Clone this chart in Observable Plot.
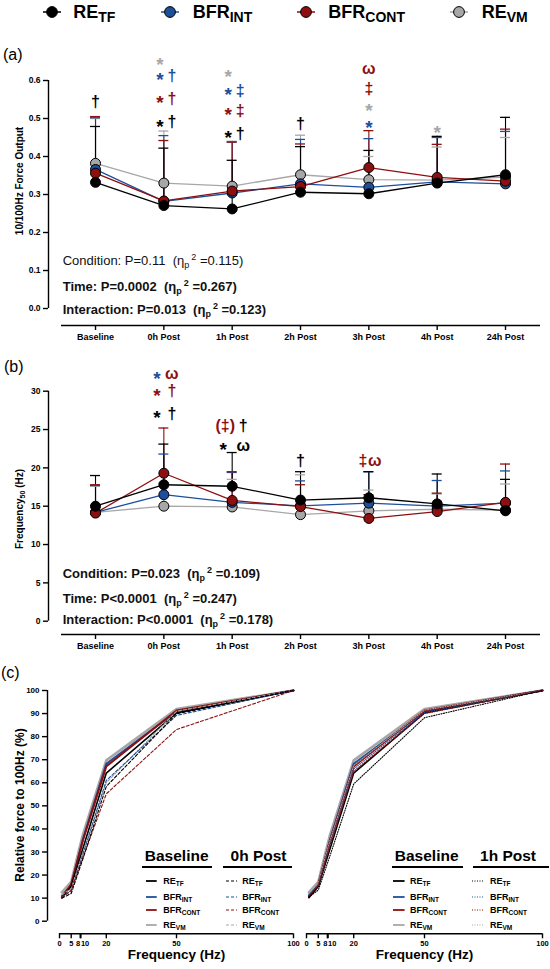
<!DOCTYPE html>
<html><head><meta charset="utf-8">
<script src="https://cdn.jsdelivr.net/npm/d3@7"></script>
<script src="https://cdn.jsdelivr.net/npm/@observablehq/plot@0.6"></script>
<style>
body{margin:0;background:#fff;font-family:"Liberation Sans",Arial,Helvetica,sans-serif;color:#000;}
#root{position:relative;width:550px;height:969px;overflow:hidden;background:#fff;}
.abs{position:absolute;white-space:nowrap;}
.stat{font-size:13px;line-height:16px;color:#111;}
.sb{font-size:9px;position:relative;top:3px;}
.sp{font-size:9px;position:relative;top:-5px;margin-left:2px;}
svg [aria-label$="tick label"]{font-weight:bold;}
</style></head><body><div id="root"></div>
<script>
// ---------------- data ----------------
const categories = ["Baseline","0h Post","1h Post","2h Post","3h Post","4h Post","24h Post"];
const seriesKeys = ["RE_TF","BFR_INT","BFR_CONT","RE_VM"];
const seriesMain = ["RE","BFR","BFR","RE"];
const seriesSub  = ["TF","INT","CONT","VM"];
const seriesColors = ["#000000","#1d4f9b","#8e0f0f","#a7a7a7"];
const drawOrder = ["RE_VM","BFR_INT","BFR_CONT","RE_TF"];

// (a) 10/100Hz force output: means and upper SD
const forceRatio_RE_TF    = [0.332,0.271,0.262,0.306,0.302,0.330,0.352];
const forceRatio_BFR_INT  = [0.366,0.282,0.304,0.328,0.319,0.333,0.328];
const forceRatio_BFR_CONT = [0.356,0.283,0.309,0.321,0.371,0.345,0.335];
const forceRatio_RE_VM    = [0.382,0.330,0.322,0.352,0.339,0.338,0.346];
const forceRatioUpper_RE_TF    = [0.479,0.422,0.390,0.426,0.416,0.453,0.503];
const forceRatioUpper_BFR_INT  = [0.502,0.455,0.438,0.445,0.447,0.450,0.466];
const forceRatioUpper_BFR_CONT = [0.505,0.442,0.438,0.433,0.468,0.432,0.472];
const forceRatioUpper_RE_VM    = [0.500,0.467,0.440,0.456,0.400,0.425,0.450];

// (b) Frequency50 (Hz)
const freq50_RE_TF    = [15.0,17.8,17.6,15.8,16.1,15.3,14.4];
const freq50_BFR_INT  = [14.2,16.5,15.5,15.05,15.4,15.0,15.4];
const freq50_BFR_CONT = [14.1,19.3,15.75,14.95,13.4,14.3,15.5];
const freq50_RE_VM    = [14.2,15.0,14.9,13.9,14.4,14.6,14.5];
const freq50Upper_RE_TF    = [19.0,23.1,22.0,19.5,19.5,19.2,18.5];
const freq50Upper_BFR_INT  = [17.7,21.8,19.4,18.3,19.5,18.35,19.6];
const freq50Upper_BFR_CONT = [17.8,25.2,19.5,17.8,16.5,16.7,20.5];
const freq50Upper_RE_VM    = [17.6,18.0,18.5,19.1,17.1,16.6,17.9];

// (c) relative force to 100Hz (%)
const stimFreqs = [1,5,8,10,20,50,100];
const freqTicksMain = [0,5,20,50,100];
const freqTickLeft = [8];
const freqTickRight = [10];
const relBase_RE_TF    = [10.2,15.0,25.0,31.5,64.2,90.3,100];
const relBase_BFR_INT  = [11.0,15.5,27.5,35.5,68.2,90.9,100];
const relBase_BFR_CONT = [10.5,16.0,27.5,35.0,67.1,91.3,100];
const relBase_RE_VM    = [12.5,17.0,29.5,37.5,69.7,92.0,100];
const rel0h_RE_TF    = [10.0,12.0,21.0,27.0,58.4,89.9,100];
const rel0h_BFR_INT  = [10.5,13.0,22.5,29.0,61.0,89.2,100];
const rel0h_BFR_CONT = [10.2,13.5,22.0,27.5,55.2,83.1,100];
const rel0h_RE_VM    = [11.5,14.0,23.5,29.5,60.0,91.0,100];
const rel1h_RE_TF    = [10.5,13.5,22.5,28.5,59.5,88.2,100];
const rel1h_BFR_INT  = [11.5,15.5,26.5,33.5,66.0,90.5,100];
const rel1h_BFR_CONT = [11.0,15.5,26.0,33.0,65.0,90.0,100];
const rel1h_RE_VM    = [12.0,16.5,28.0,35.0,67.5,91.5,100];

// significance annotations: [category, value level, symbol, series colour, slot]
const annotationsA = [
  ["Baseline",0.543,"†","RE_TF",0],
  ["0h Post",0.653,"*","RE_VM",-1],
  ["0h Post",0.613,"*","BFR_INT",-1],["0h Post",0.613,"†","BFR_INT",1],
  ["0h Post",0.552,"*","BFR_CONT",-1],["0h Post",0.552,"†","BFR_CONT",1],
  ["0h Post",0.490,"*","RE_TF",-1],["0h Post",0.490,"†","RE_TF",1],
  ["1h Post",0.620,"*","RE_VM",-1],
  ["1h Post",0.574,"*","BFR_INT",-1],["1h Post",0.574,"‡","BFR_INT",1],
  ["1h Post",0.521,"*","BFR_CONT",-1],["1h Post",0.521,"‡","BFR_CONT",1],
  ["1h Post",0.460,"*","RE_TF",-1],["1h Post",0.460,"†","RE_TF",1],
  ["2h Post",0.486,"†","RE_TF",0],
  ["3h Post",0.631,"ω","BFR_CONT",0],
  ["3h Post",0.578,"‡","BFR_CONT",0],
  ["3h Post",0.532,"*","RE_VM",0],
  ["3h Post",0.486,"*","BFR_INT",0],
  ["4h Post",0.475,"*","RE_VM",0]
];
const annotationsB = [
  ["0h Post",32.2,"*","BFR_INT",-1],["0h Post",32.2,"ω","BFR_CONT",1],
  ["0h Post",30.0,"*","BFR_CONT",-1],["0h Post",30.0,"†","BFR_CONT",1],
  ["0h Post",27.05,"*","RE_TF",-1],["0h Post",27.05,"†","RE_TF",1],
  ["1h Post",25.5,"(‡)","BFR_CONT",-1],["1h Post",25.5,"†","RE_TF",2],
  ["1h Post",22.9,"*","RE_TF",-2],["1h Post",22.9,"ω","RE_TF",2],
  ["2h Post",20.96,"†","RE_TF",0],
  ["3h Post",20.96,"‡","BFR_CONT",-3],["3h Post",20.96,"ω","BFR_CONT",3]
];

const statsA = [["Condition:","P=0.11","0.115",false],["Time:","P=0.0002","0.267",true],["Interaction:","P=0.013","0.123",true]];
const statsB = [["Condition:","P=0.023","0.109",true],["Time:","P<0.0001","0.247",true],["Interaction:","P<0.0001","0.178",true]];

// ---------------- helpers ----------------
const FONT = '"Liberation Sans", Arial, Helvetica, sans-serif';
const root = document.getElementById("root");
function put(el, left, top){ el.style.position="absolute"; el.style.left=left+"px"; el.style.top=top+"px"; root.appendChild(el); return el; }
function div(html, cls, left, top, extra){ const d=document.createElement("div"); d.className="abs "+(cls||""); d.innerHTML=html; if(extra) Object.assign(d.style, extra); return put(d,left,top); }

function catTable(means, uppers){
  return drawOrder.flatMap(k => categories.map((c,i)=>({series:k, i, mean: means[k][i], upper: uppers[k][i]})));
}
function freqTable(vals, period){
  return drawOrder.flatMap(k => stimFreqs.map((f,j)=>({series:k, period, f, v: vals[k][j]})));
}
const colorScale = {domain: seriesKeys, range: seriesColors};
const svgStyle = {background:"transparent", fontFamily: FONT, color:"#000", overflow:"visible"};

// categorical panels layout
const xDomainAB = [-0.688, 6.512];
const marginLAB = 48, marginRAB = 10, W = 550;
const pxPerCat = (W - marginLAB - marginRAB) / (xDomainAB[1]-xDomainAB[0]);
const xAxisStart = -0.4976;
const capHalf = 5 / pxPerCat;

function annoMarks(list, offsets){
  const rows = list.map(([cat,y,sym,series,slot]) => ({x: categories.indexOf(cat) + offsets[slot]/pxPerCat, y, sym, series}));
  return [
    Plot.text(rows.filter(d=>d.sym==="*"), {x:"x", y:"y", text:"sym", fill:"series", fontSize:19, fontWeight:"bold", dy:4.5}),
    Plot.text(rows.filter(d=>d.sym!=="*"), {x:"x", y:"y", text:"sym", fill:"series", fontSize:16, fontWeight:"bold"})
  ];
}

function catPanel({data, yDomain, yTicks, yFmt, yTop, top, mTop, mBottom, height, annos, offsets}){
  const svg = Plot.plot({
    width: W, height, marginTop: mTop, marginBottom: mBottom, marginLeft: marginLAB, marginRight: marginRAB,
    x: {domain: xDomainAB, axis: null},
    y: {domain: yDomain, axis: null},
    color: colorScale,
    style: svgStyle,
    marks: [
      Plot.ruleX([xDomainAB[0]], {y1: 0, y2: yTop, stroke:"#000", strokeWidth: 1.4}),
      Plot.axisY({ticks: yTicks, tickFormat: yFmt, tickSize: 5, tickPadding: 3, fontSize: 8.5, fontWeight:"bold", strokeWidth: 1.4, label: null}),
      Plot.ruleY([yDomain[0]], {x1: xAxisStart, x2: xDomainAB[1], stroke:"#000", strokeWidth: 1.4}),
      Plot.axisX({ticks: d3.range(categories.length), tickFormat: i => categories[i], tickSize: 5, tickPadding: 3, fontSize: 9, fontWeight:"bold", strokeWidth: 1.4, label: null}),
      Plot.ruleX(data, {x:"i", y1:"mean", y2:"upper", stroke:"series", strokeWidth: 1.1}),
      Plot.ruleY(data, {y:"upper", x1: d => d.i - capHalf, x2: d => d.i + capHalf, stroke:"series", strokeWidth: 1.3}),
      Plot.line(data, {x:"i", y:"mean", z:"series", stroke:"series", strokeWidth: 1.3}),
      Plot.dot(data, {x:"i", y:"mean", fill:"series", stroke:"#000", strokeWidth: 1, r: 5}),
      ...annoMarks(annos, offsets)
    ]
  });
  put(svg, 0, top);
}

// ---------------- panel (a) ----------------
const ratioMeans = {RE_TF: forceRatio_RE_TF, BFR_INT: forceRatio_BFR_INT, BFR_CONT: forceRatio_BFR_CONT, RE_VM: forceRatio_RE_VM};
const ratioUppers = {RE_TF: forceRatioUpper_RE_TF, BFR_INT: forceRatioUpper_BFR_INT, BFR_CONT: forceRatioUpper_BFR_CONT, RE_VM: forceRatioUpper_RE_VM};
catPanel({
  data: catTable(ratioMeans, ratioUppers),
  yDomain: [-0.0447, 0.6], yTicks: [0,0.1,0.2,0.3,0.4,0.5,0.6], yFmt: d3.format(".1f"), yTop: 0.6,
  top: 40, mTop: 40, mBottom: 20, height: 305,
  annos: annotationsA, offsets: {"-1": -4, 0: 0, 1: 8}
});

// ---------------- panel (b) ----------------
const f50Means = {RE_TF: freq50_RE_TF, BFR_INT: freq50_BFR_INT, BFR_CONT: freq50_BFR_CONT, RE_VM: freq50_RE_VM};
const f50Uppers = {RE_TF: freq50Upper_RE_TF, BFR_INT: freq50Upper_BFR_INT, BFR_CONT: freq50Upper_BFR_CONT, RE_VM: freq50Upper_RE_VM};
catPanel({
  data: catTable(f50Means, f50Uppers),
  yDomain: [-1.735, 30], yTicks: [0,5,10,15,20,25,30], yFmt: d3.format("d"), yTop: 30,
  top: 350, mTop: 40.7, mBottom: 21, height: 305,
  annos: annotationsB, offsets: {"-3": -6, "-2": -9, "-1": -7, 0: 0, 1: 8, 2: 11, 3: 6}
});

// ---------------- panel (c) ----------------
const baseVals = {RE_TF: relBase_RE_TF, BFR_INT: relBase_BFR_INT, BFR_CONT: relBase_BFR_CONT, RE_VM: relBase_RE_VM};
const post0Vals = {RE_TF: rel0h_RE_TF, BFR_INT: rel0h_BFR_INT, BFR_CONT: rel0h_BFR_CONT, RE_VM: rel0h_RE_VM};
const post1Vals = {RE_TF: rel1h_RE_TF, BFR_INT: rel1h_BFR_INT, BFR_CONT: rel1h_BFR_CONT, RE_VM: rel1h_RE_VM};
const baseData = freqTable(baseVals, "Baseline");
const post0Data = freqTable(post0Vals, "0h Post");
const post1Data = freqTable(post1Vals, "1h Post");
const yDomainC = [-5.46, 100];
const baseWidth = {RE_TF: 1.6, BFR_INT: 2, BFR_CONT: 2, RE_VM: 2.6};

function freqPanel({postData, dash, left, width, mLeft, mRight, xDomain, withY, titleDx}){
  const marks = [];
  if (withY) {
    marks.push(Plot.ruleX([xDomain[0]], {y1: 0, y2: 100, stroke:"#000", strokeWidth: 1.4}));
    marks.push(Plot.axisY({ticks: d3.range(0, 101, 10), tickSize: 5, tickPadding: 3, fontSize: 8, fontWeight:"bold", strokeWidth: 1.4, label: null}));
  }
  const tickOpts = {tickSize: 5, tickPadding: 2, fontSize: 7.5, fontWeight:"bold", strokeWidth: 1.4, label: null};
  marks.push(
    Plot.ruleY([yDomainC[0]], {x1: 0, x2: 100, stroke:"#000", strokeWidth: 1.4}),
    Plot.axisX({ticks: freqTicksMain, ...tickOpts}),
    Plot.axisX({ticks: freqTickLeft, ...tickOpts, textAnchor: "end", dx: 2}),
    Plot.axisX({ticks: freqTickRight, ...tickOpts, textAnchor: "start", dx: -2}),
    Plot.text(["Frequency (Hz)"], {frameAnchor: "bottom", dy: 25, dx: titleDx, fontSize: 13.5, fontWeight: "bold"}),
    ...drawOrder.map(k => Plot.line(baseData.filter(d=>d.series===k), {x:"f", y:"v", stroke:"series", strokeWidth: baseWidth[k]})),
    Plot.line(postData, {x:"f", y:"v", z:"series", stroke:"series", strokeWidth: 1.1, strokeDasharray: dash})
  );
  const svg = Plot.plot({
    width, height: 289, marginTop: 10, marginBottom: 35.7, marginLeft: mLeft, marginRight: mRight,
    x: {domain: xDomain, axis: null},
    y: {domain: yDomainC, axis: null},
    color: colorScale, style: svgStyle, marks
  });
  put(svg, left, 680);
}
freqPanel({postData: post0Data, dash: "3,2", left: 0, width: 300, mLeft: 47, mRight: 7, xDomain: [-5.13, 100], withY: true, titleDx: 6});
freqPanel({postData: post1Data, dash: "1,1.5", left: 295, width: 255, mLeft: 11, mRight: 8, xDomain: [0, 100], withY: false, titleDx: 0});

// ---------------- text overlays ----------------
// top legend
const legendCx = [51.7, 170, 305.7, 459.3];
const legendTx = [73.3, 192.7, 328.3, 481.7];
seriesKeys.forEach((k, i) => {
  const s = document.createElementNS("http://www.w3.org/2000/svg","svg");
  s.setAttribute("width", 22); s.setAttribute("height", 16);
  s.innerHTML = `<line x1="2" x2="20" y1="8" y2="8" stroke="${seriesColors[i]}" stroke-width="1.5"/><circle cx="11" cy="8" r="5.4" fill="${seriesColors[i]}" stroke="#000" stroke-width="1"/>`;
  put(s, legendCx[i]-11, 4);
  div(`${seriesMain[i]}<span style="font-size:14px;position:relative;top:4px">${seriesSub[i]}</span>`, "", legendTx[i], 2, {fontSize:"18px", fontWeight:"bold", lineHeight:"20px"});
});

// panel letters
div("(a)", "", 3, 46, {fontSize:"16px", lineHeight:"18px"});
div("(b)", "", 4, 358, {fontSize:"16px", lineHeight:"18px"});
div("(c)", "", 1, 664, {fontSize:"16px", lineHeight:"18px"});

// y titles
function yTitle(html, cx, cy, size){
  div(html, "", cx, cy, {fontSize: size+"px", fontWeight:"bold", lineHeight: size+"px", transform:"translate(-50%,-50%) rotate(-90deg)"});
}
yTitle("10/100Hz Force Output", 20, 181, 10);
yTitle(`Frequency<span style="font-size:7px;position:relative;top:2px">50</span> (Hz)`, 20, 509, 10);
yTitle("Relative force to 100Hz (%)", 20, 805, 12);

// stats text
function statLines(list, centers){
  list.forEach(([name, p, eta, bold], j) => {
    div(`${name} ${p}&nbsp; (η<span class="sb">p</span><span class="sp">2</span> =${eta})`, "stat", 62.7, centers[j]-8, {fontWeight: bold ? "bold" : "normal"});
  });
}
statLines(statsA, [260.5, 287, 309.7]);
statLines(statsB, [573.5, 598.7, 620.3]);

// panel (c) legends
function lineSample(x1, x2, y, color, width, dash){
  const s = document.createElementNS("http://www.w3.org/2000/svg","svg");
  s.setAttribute("width", x2-x1+2); s.setAttribute("height", 6);
  s.innerHTML = `<line x1="1" x2="${x2-x1+1}" y1="3" y2="3" stroke="${color}" stroke-width="${width}" ${dash?`stroke-dasharray="${dash}"`:""}/>`;
  put(s, x1-1, y-3);
}
const legendRowsC = [881, 896.7, 910, 925];
function legendC(headers, cols){
  headers.forEach(([txt, cx, u1, u2]) => {
    div(txt, "", cx, 856, {fontSize:"15.5px", fontWeight:"bold", lineHeight:"18px", transform:"translate(-50%,-50%)"});
    const u = document.createElement("div"); Object.assign(u.style, {width:(u2-u1)+"px", height:"0px", borderTop:"2px solid #000"}); put(u, u1, 865.5);
  });
  cols.forEach(([s1, s2, lx, dash, w]) => {
    seriesKeys.forEach((k, i) => {
      lineSample(s1, s2, legendRowsC[i], seriesColors[i], w, dash);
      div(`${seriesMain[i]}<span style="font-size:6.5px;position:relative;top:2px">${seriesSub[i]}</span>`, "", lx, legendRowsC[i]-6, {fontSize:"9px", fontWeight:"bold", lineHeight:"12px"});
    });
  });
}
legendC([["Baseline",176.7,141.7,212.3],["0h Post",258.5,222.7,292]],
        [[146,156.7,163.3,null,1.8],[225.7,236.7,242.3,"3,2",1.1]]);
legendC([["Baseline",426.7,391.7,462.7],["1h Post",508,473.3,549.3]],
        [[392.7,404.3,410,null,1.8],[471.7,483.3,490,"1,1.5",1.1]]);
</script></body></html>
